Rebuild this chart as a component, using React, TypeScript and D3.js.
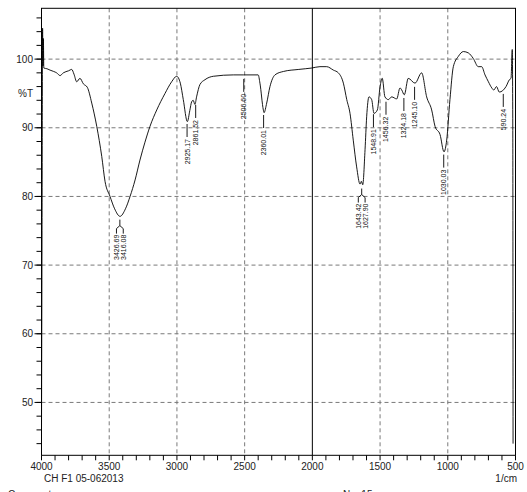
import React from "react";
import * as d3 from "d3";

const W = 527;
const H = 492;

const wavenumbers = [
  4000, 3996, 3992, 3989, 3986, 3983, 3960, 3937, 3910, 3888, 3863, 3839, 3800, 3777, 3760, 3740, 3716, 3691, 3662,
  3629, 3592, 3555, 3531, 3494, 3460, 3420, 3380, 3346, 3309, 3273, 3236, 3199, 3149, 3088, 3039, 3002, 2975, 2953,
  2923, 2905, 2891, 2880, 2867, 2855, 2830, 2793, 2731, 2584, 2510, 2400, 2387, 2362, 2357, 2337, 2313, 2276, 2214,
  2100, 2005, 1944, 1894, 1845, 1808, 1771, 1746, 1722, 1698, 1673, 1648, 1638, 1628, 1611, 1599, 1582, 1562, 1545,
  1520, 1500, 1484, 1464, 1439, 1414, 1377, 1353, 1340, 1321, 1292, 1242, 1193, 1156, 1119, 1094, 1057, 1028, 1008,
  984, 959, 922, 885, 848, 812, 775, 750, 725, 700, 675, 660, 640, 620, 595, 570, 545, 533, 524, 520, 518,
];

const transmittance = [
  46, 75, 104.5, 99, 103, 98.7, 98.6, 98.4, 98.2, 98.0, 97.6, 98.0, 98.3, 98.5, 97.8, 96.7, 97.2, 96.4, 95.9,
  93.6, 90.2, 85.8, 82.2, 80.0, 78.2, 77.1, 78.2, 80.0, 82.4, 85.3, 87.9, 90.2, 92.6, 95.0, 96.7, 97.5, 96.5, 94.1,
  90.9, 92.5, 93.8, 94.0, 93.4, 94.5, 96.3, 97.0, 97.5, 97.7, 97.7, 97.7, 96.5, 92.6, 92.2, 93.6, 96.0, 97.7, 98.2,
  98.5, 98.7, 98.9, 98.9, 98.4, 98.0, 96.5, 94.1, 92.1, 88.2, 84.3, 81.8, 82.2, 81.7, 86.8, 91.6, 94.5, 94.1, 92.1,
  92.6, 96.0, 97.2, 94.5, 94.1, 94.5, 94.2, 95.8, 95.5, 94.8, 97.2, 96.5, 98.0, 94.5, 92.6, 90.2, 89.0, 86.5, 88.2,
  94.1, 98.9, 100.4, 101.1, 100.9, 100.1, 98.9, 98.9, 97.7, 96.7, 95.8, 95.5, 96.0, 95.2, 95.4, 96.0, 97.0, 97.2,
  101.4, 90, 44,
];

const xTickLabels = [4000, 3500, 3000, 2500, 2000, 1500, 1000, 500];
const yTickLabels = [100, 90, 80, 70, 60, 50];
const dashedX = [3500, 3000, 2500, 1500, 1000];
const solidX = [2000];

const peakGroups = [
  ["3426.69", "3416.08"],
  ["2925.17"],
  ["2861.52"],
  ["2506.60"],
  ["2360.01"],
  ["1643.42", "1627.90"],
  ["1548.91"],
  ["1456.32"],
  ["1324.18"],
  ["1245.10"],
  ["1030.03"],
  ["590.24"],
];

const FONT = "Liberation Sans, Arial, sans-serif";

export default function App() {
  const left = 41.5;
  const right = 515.5;
  const top = 8.3;
  const bottom = 455.3;
  const x = d3.scaleLinear().domain([4000, 500]).range([left, right]);
  const y = d3.scaleLinear().domain([42.3, 107.4]).range([bottom, top]);

  const pts: [number, number][] = wavenumbers.map((w, i) => [w, transmittance[i]]);
  const line = d3
    .line<[number, number]>()
    .x((d) => x(d[0]))
    .y((d) => y(d[1]))
    .curve(d3.curveMonotoneX);

  const interp = (w: number) => {
    for (let i = 0; i < wavenumbers.length - 1; i++) {
      const a = wavenumbers[i];
      const b = wavenumbers[i + 1];
      if (w <= a && w >= b) {
        const t = (a - w) / (a - b);
        return transmittance[i] + t * (transmittance[i + 1] - transmittance[i]);
      }
    }
    return 95;
  };

  const xMinor = d3.range(4000, 499, -100);
  const yMinor = d3.range(44, 107, 2);

  return (
    <svg
      width={W}
      height={H}
      style={{ position: "absolute", left: 0, top: 0, background: "#fff" }}
      fontFamily={FONT}
    >
      <rect x={0} y={0} width={W} height={H} fill="#fff" />
      {/* grid */}
      {dashedX.map((v) => (
        <line key={"gx" + v} x1={x(v)} x2={x(v)} y1={top} y2={bottom} stroke="#7a7a7a" strokeDasharray="4,3" />
      ))}
      {yTickLabels.map((v) => (
        <line key={"gy" + v} x1={left} x2={right} y1={y(v)} y2={y(v)} stroke="#7a7a7a" strokeDasharray="4,3" />
      ))}
      {solidX.map((v) => (
        <line key={"sx" + v} x1={x(v)} x2={x(v)} y1={top} y2={bottom} stroke="#000" />
      ))}
      {/* frame */}
      <rect x={left} y={top} width={right - left} height={bottom - top} fill="none" stroke="#000" />
      {/* y ticks */}
      {yMinor.map((v) => (
        <line key={"ym" + v} x1={left - 5} x2={left} y1={y(v)} y2={y(v)} stroke="#000" />
      ))}
      {yTickLabels.map((v) => (
        <g key={"yl" + v}>
          <line x1={left - 7} x2={left} y1={y(v)} y2={y(v)} stroke="#000" />
          <text x={33} y={y(v)} dy="0.35em" textAnchor="end" fontSize={10} fill="#222">
            {v}
          </text>
        </g>
      ))}
      <text x={33} y={y(95)} dy="0.35em" textAnchor="end" fontSize={10} fill="#222">
        %T
      </text>
      {/* x ticks */}
      {xMinor.map((v) => (
        <line key={"xm" + v} x1={x(v)} x2={x(v)} y1={bottom} y2={bottom + 5} stroke="#000" />
      ))}
      {xTickLabels.map((v) => (
        <text key={"xl" + v} x={x(v)} y={470} textAnchor="middle" fontSize={10} fill="#222">
          {v}
        </text>
      ))}
      <text x={44} y={482} fontSize={10} fill="#222">
        CH F1 05-062013
      </text>
      <text x={517} y={482} textAnchor="end" fontSize={10} fill="#222">
        1/cm
      </text>
      <text x={8} y={498} fontSize={10} fill="#222">
        Comment;
      </text>
      <text x={343} y={498} fontSize={10} fill="#222">
        No. 15
      </text>
      {/* spectrum */}
      <path d={line(pts) || ""} fill="none" stroke="#000" strokeWidth={0.9} />
      {/* peak labels */}
      {peakGroups.map((g, gi) => {
        const wns = g.map((s) => parseFloat(s));
        const mean = d3.mean(wns) as number;
        const cx = x(mean);
        const t0 = y(d3.min(wns.map(interp)) as number) + 4;
        if (g.length === 1) {
          return (
            <g key={"pk" + gi}>
              <line x1={cx} x2={cx} y1={t0} y2={t0 + 13} stroke="#000" strokeWidth={0.9} />
              <text
                transform={`translate(${cx},${t0 + 15}) rotate(-90)`}
                textAnchor="end"
                dy="0.35em"
                fontSize={7}
                fill="#111"
              >
                {g[0]}
              </text>
            </g>
          );
        }
        const off = 3.4;
        return (
          <g key={"pk" + gi}>
            <line x1={cx} x2={cx} y1={t0} y2={t0 + 6} stroke="#000" strokeWidth={0.9} />
            {g.map((s, k) => {
              const lx = cx + (k === 0 ? -off : off);
              return (
                <g key={s}>
                  <path
                    d={`M${cx},${t0 + 6} L${lx},${t0 + 9} V${t0 + 14}`}
                    fill="none"
                    stroke="#000"
                    strokeWidth={0.9}
                  />
                  <text
                    transform={`translate(${lx},${t0 + 15}) rotate(-90)`}
                    textAnchor="end"
                    dy="0.35em"
                    fontSize={7}
                    fill="#111"
                  >
                    {s}
                  </text>
                </g>
              );
            })}
          </g>
        );
      })}
    </svg>
  );
}
